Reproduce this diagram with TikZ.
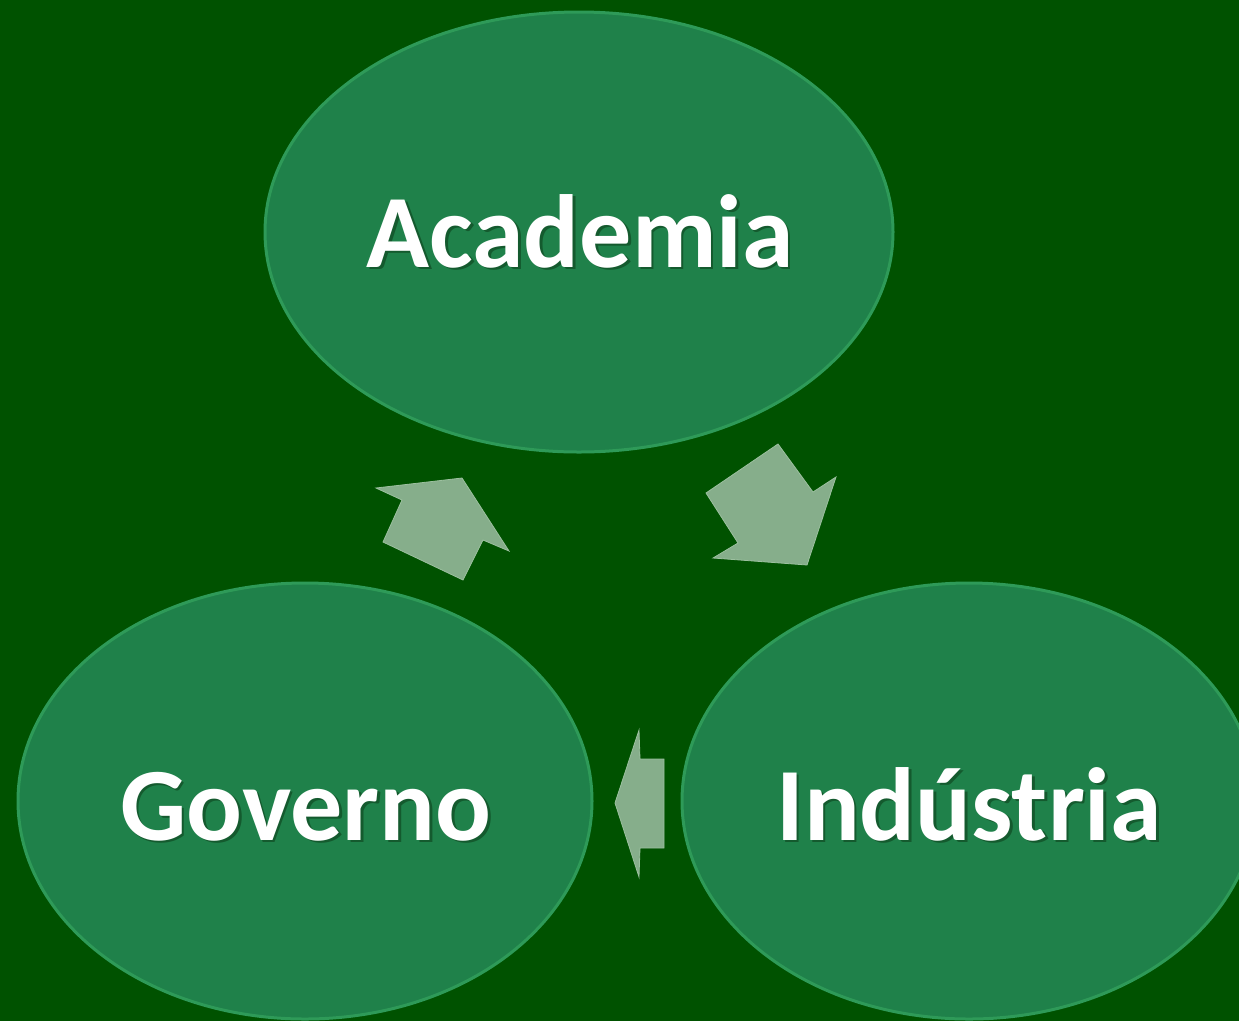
\documentclass[tikz,border=0pt]{standalone}
\usepackage{fontspec}
\setmainfont{Carlito}
\usetikzlibrary{shapes.geometric}
\definecolor{bgcol}{HTML}{005200}
\definecolor{ellfill}{HTML}{1F814A}
\definecolor{ellrim}{HTML}{2E9A58}
\definecolor{arrfill}{HTML}{86AE8B}
\definecolor{arrrim}{HTML}{9CC09F}
\definecolor{shadcol}{HTML}{145A2E}
\newcommand\shadtext[1]{\makebox[0pt][l]{\hspace{2.5pt}\raisebox{-2.5pt}{\textcolor{shadcol}{#1}}}#1}
\tikzset{
  bubble/.style={ellipse, fill=ellfill, draw=ellrim, line width=3pt, inner sep=0pt},
  label/.style={text=white, font=\fontsize{104}{110}\selectfont\bfseries, anchor=base, inner sep=0pt},
  blockarrow/.style={fill=arrfill, draw=arrrim, line width=0.8pt, line join=miter}
}
\begin{document}
\begin{tikzpicture}[x=1pt, y=-1pt]
\fill[bgcol] (0,0) rectangle (1239,1021);
\useasboundingbox (0,0) rectangle (1239,1021);
\node[bubble, minimum width=628pt, minimum height=440pt] (acad) at (579,232) {};
\node[bubble, minimum width=574pt, minimum height=436pt] (gov) at (305,801) {};
\node[bubble, minimum width=574pt, minimum height=436pt] (ind) at (969,801) {};
\node[label] (tacad) at (580,267) {\shadtext{Academia}};
\node[label] (tgov) at (306,840) {\shadtext{Governo}};
\node[label] (tind) at (969,840) {\shadtext{Indústria}};
% block arrows
\path[blockarrow] (462,478) -- (509,551) -- (483,540) -- (463,580) -- (383,542) -- (402,500) -- (376,488) -- cycle;
\path[blockarrow] (807,565) -- (713,558) -- (738,543) -- (706,493) -- (778,444) -- (813,492) -- (836,477) -- cycle;
\path[blockarrow] (615,803) -- (639,730) -- (640,759) -- (664,759) -- (664,848) -- (640,848) -- (639,877) -- cycle;
\end{tikzpicture}
\end{document}
